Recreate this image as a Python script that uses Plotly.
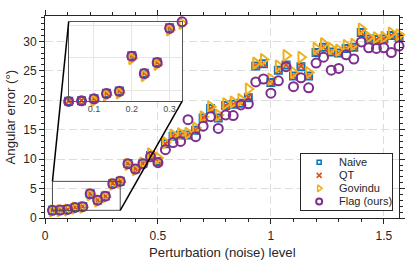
import plotly.graph_objects as go

# ---------------- data ----------------
noise = [0.033, 0.067, 0.100, 0.133, 0.167, 0.200, 0.233, 0.267, 0.300, 0.333,
         0.367, 0.400, 0.433, 0.467, 0.500, 0.533, 0.567, 0.600, 0.633, 0.667,
         0.700, 0.733, 0.767, 0.800, 0.833, 0.867, 0.900, 0.933, 0.967, 1.000,
         1.033, 1.067, 1.100, 1.133, 1.167, 1.200, 1.233, 1.267, 1.300, 1.333,
         1.367, 1.400, 1.433, 1.467, 1.500, 1.533, 1.567]

naive = [1.32, 1.35, 1.47, 1.80, 1.95, 4.12, 3.05, 3.72, 5.85, 6.25,
         9.25, 8.35, 9.30, 10.6, 9.60, 12.6, 13.9, 14.1, 14.1, 14.9,
         17.0, 18.6, 17.0, 19.1, 19.3, 19.5, 20.4, 25.8, 26.2, 23.0,
         25.1, 26.0, 24.1, 25.7, 24.1, 28.1, 29.0, 28.2, 28.0, 28.8,
         29.0, 31.5, 30.4, 30.3, 30.4, 31.0, 30.7]

qt = [1.32, 1.35, 1.47, 1.80, 1.95, 4.12, 3.05, 3.72, 5.85, 6.25,
      9.25, 8.35, 9.30, 10.6, 9.60, 12.6, 13.9, 14.1, 14.1, 14.9,
      17.0, 18.6, 17.0, 19.1, 19.3, 19.5, 20.5, 25.8, 26.2, 23.0,
      25.1, 26.0, 24.1, 25.8, 24.1, 28.1, 29.0, 28.2, 28.0, 28.8,
      29.0, 31.5, 30.4, 30.3, 30.4, 31.0, 30.7]

govindu = [1.20, 1.25, 1.35, 1.68, 1.82, 3.95, 2.90, 3.58, 5.72, 6.12,
           9.10, 8.20, 9.35, 10.9, 10.2, 12.8, 14.1, 14.3, 14.4, 15.3,
           17.2, 18.9, 17.5, 19.4, 19.7, 20.1, 21.9, 26.3, 26.9, 23.6,
           25.8, 27.6, 24.7, 27.3, 24.7, 28.8, 29.6, 28.8, 28.5, 29.3,
           29.5, 32.1, 30.7, 30.6, 30.7, 31.4, 31.1]

flag = [1.30, 1.34, 1.46, 1.79, 1.93, 4.10, 3.02, 3.70, 5.82, 6.22,
        9.20, 8.30, 9.20, 10.4, 9.40, 11.6, 12.8, 13.0, 16.7, 13.8,
        15.6, 17.2, 15.2, 17.5, 17.4, 19.2, 19.4, 23.1, 23.6, 21.2,
        23.3, 25.7, 22.3, 23.8, 22.1, 26.3, 27.3, 25.1, 25.4, 27.7,
        27.0, 29.9, 28.9, 28.8, 28.9, 28.1, 29.2]

series_names = ["Naive", "QT", "Govindu", "Flag (ours)"]
series_data = [naive, qt, govindu, flag]

x_tick_vals = [0, 0.5, 1, 1.5]
x_tick_text = ["0", "0.5", "1", "1.5"]
y_tick_vals = [0, 5, 10, 15, 20, 25, 30]
y_tick_text = ["0", "5", "10", "15", "20", "25", "30"]
inset_x_ticks = [0.1, 0.2, 0.3]
inset_x_text = ["0.1", "0.2", "0.3"]
inset_y_ticks = [2, 4, 6]
N_INSET = 10

# ---------------- styles ----------------
COLORS = ["#0072BD", "#D95319", "#EDB120", "#7E2F8E"]
SYMBOLS = ["square-open", "x-thin-open", "triangle-right-open", "circle-open"]
SIZES = [7, 7, 10, 9]
LWS = [2, 2, 2, 2]
LEG_SIZES = [4, 5, 6, 6]
LEG_LWS = [1.5, 1.5, 1.5, 2]

FONT = "Liberation Sans, Arial, Helvetica, sans-serif"
AX = "#262626"
GRID = "#dcdcdc"
X_MAX = 1.567
Y_MAX = 34.3

W, H = 415, 264
ML, MR, MT, MB = 45, 11, 10, 46
PW, PH = W - ML - MR, H - MT - MB

def px_x(p):
    return (p - ML) / PW

def px_y(p):
    return (H - MB - p) / PH

inset_dom_x = [px_x(69), px_x(184)]
inset_dom_y = [px_y(98), px_y(16)]
leg_dom_x = [px_x(305), px_x(397)]
leg_dom_y = [px_y(210), px_y(152)]

fig = go.Figure()

# main traces
for name, data, c, s, sz, lw in zip(series_names, series_data, COLORS, SYMBOLS, SIZES, LWS):
    fig.add_trace(go.Scatter(
        x=noise, y=data, mode="markers", name=name, showlegend=False,
        cliponaxis=False,
        marker=dict(symbol=s, size=sz, color=c, line=dict(width=lw, color=c)),
        xaxis="x", yaxis="y"))

# inset traces
for name, data, c, s, sz, lw in zip(series_names, series_data, COLORS, SYMBOLS, SIZES, LWS):
    fig.add_trace(go.Scatter(
        x=noise[:N_INSET], y=data[:N_INSET], mode="markers", name=name, showlegend=False,
        cliponaxis=False,
        marker=dict(symbol=s, size=sz, color=c, line=dict(width=lw, color=c)),
        xaxis="x2", yaxis="y2"))

# legend (drawn as its own small axes box)
n = len(series_names)
row_y = [0.85 - i * 0.231 for i in range(n)]
for i, (name, c, s, sz, lw) in enumerate(zip(series_names, COLORS, SYMBOLS, LEG_SIZES, LEG_LWS)):
    fig.add_trace(go.Scatter(
        x=[0.196], y=[row_y[i]], mode="markers", name=name, showlegend=False,
        cliponaxis=False,
        marker=dict(symbol=s, size=sz, color=c, line=dict(width=lw, color=c)),
        xaxis="x3", yaxis="y3", hoverinfo="skip"))

annotations = []
for i, name in enumerate(series_names):
    annotations.append(dict(
        x=0.39, y=row_y[i], xref="x3", yref="y3", text=name, showarrow=False,
        xanchor="left", yanchor="middle", font=dict(family=FONT, size=11, color=AX)))

# axis titles
annotations.append(dict(
    x=0.5, y=px_y(254), xref="paper", yref="paper", text="Perturbation (noise) level",
    showarrow=False, xanchor="center", yanchor="middle",
    font=dict(family=FONT, size=13.2, color=AX)))
annotations.append(dict(
    x=px_x(9), y=px_y(114), xref="paper", yref="paper", text="Angular error (°)",
    showarrow=False, xanchor="center", yanchor="middle", textangle=-90,
    font=dict(family=FONT, size=13.2, color=AX)))

# zoom rectangle and connectors
rx0, rx1 = noise[0], noise[N_INSET - 1]
ry0, ry1 = min(flag[:N_INSET]), max(flag[:N_INSET])
shapes = [
    dict(type="rect", xref="x", yref="y", x0=rx0, x1=rx1, y0=ry0, y1=ry1,
         line=dict(color="#4d4d4d", width=1), layer="above"),
    dict(type="line", xref="paper", yref="paper",
         x0=inset_dom_x[0], y0=inset_dom_y[1], x1=rx0 / X_MAX, y1=ry1 / Y_MAX,
         line=dict(color="black", width=1.5), layer="above"),
    dict(type="line", xref="paper", yref="paper",
         x0=inset_dom_x[1], y0=inset_dom_y[0], x1=rx1 / X_MAX, y1=ry0 / Y_MAX,
         line=dict(color="black", width=1.5), layer="above"),
]

common_main = dict(showline=True, mirror="allticks", linecolor=AX, linewidth=1,
                   ticks="outside", ticklen=5, tickwidth=1, tickcolor=AX,
                   showgrid=True, gridcolor=GRID, gridwidth=1, griddash="8px,4px",
                   zeroline=False, tickfont=dict(family=FONT, size=12, color=AX))

fig.update_layout(
    width=W, height=H,
    margin=dict(l=ML, r=MR, t=MT, b=MB, pad=0),
    paper_bgcolor="white", plot_bgcolor="white",
    showlegend=False,
    font=dict(family=FONT, size=12, color=AX),
    xaxis=dict(domain=[0, 1], anchor="y", range=[0, X_MAX],
               tickvals=x_tick_vals, ticktext=x_tick_text, ticklabelstandoff=2,
               minor=dict(ticks="outside", ticklen=3, tickwidth=1, tickcolor=AX,
                          dtick=0.1, tick0=0, showgrid=False),
               **common_main),
    yaxis=dict(domain=[0, 1], anchor="x", range=[0, Y_MAX],
               tickvals=y_tick_vals, ticktext=y_tick_text,
               minor=dict(ticks="outside", ticklen=3, tickwidth=1, tickcolor=AX,
                          dtick=1, tick0=0, showgrid=False),
               **common_main),
    xaxis2=dict(domain=inset_dom_x, anchor="y2", range=[noise[0], noise[N_INSET - 1]],
                tickvals=inset_x_ticks, ticktext=inset_x_text, ticks="",
                showline=True, mirror=True, linecolor="#555555", linewidth=1,
                showgrid=True, gridcolor="#e6e6e6", gridwidth=1, zeroline=False,
                ticklabelstandoff=-1,
                tickfont=dict(family=FONT, size=9, color="#4d4d4d")),
    yaxis2=dict(domain=inset_dom_y, anchor="x2", range=[ry0, ry1],
                tickvals=inset_y_ticks, showticklabels=False, ticks="",
                showline=True, mirror=True, linecolor="#555555", linewidth=1,
                showgrid=True, gridcolor="#e6e6e6", gridwidth=1, zeroline=False),
    xaxis3=dict(domain=leg_dom_x, anchor="y3", range=[0, 1], showgrid=False,
                zeroline=False, showticklabels=False, ticks="", showline=True,
                mirror=True, linecolor=AX, linewidth=1, fixedrange=True),
    yaxis3=dict(domain=leg_dom_y, anchor="x3", range=[0, 1], showgrid=False,
                zeroline=False, showticklabels=False, ticks="", showline=True,
                mirror=True, linecolor=AX, linewidth=1, fixedrange=True),
    annotations=annotations,
    shapes=shapes,
)

fig.write_html("out.html", config={"displayModeBar": False},
               post_script="document.body.style.margin='0';document.body.style.overflow='hidden';")
